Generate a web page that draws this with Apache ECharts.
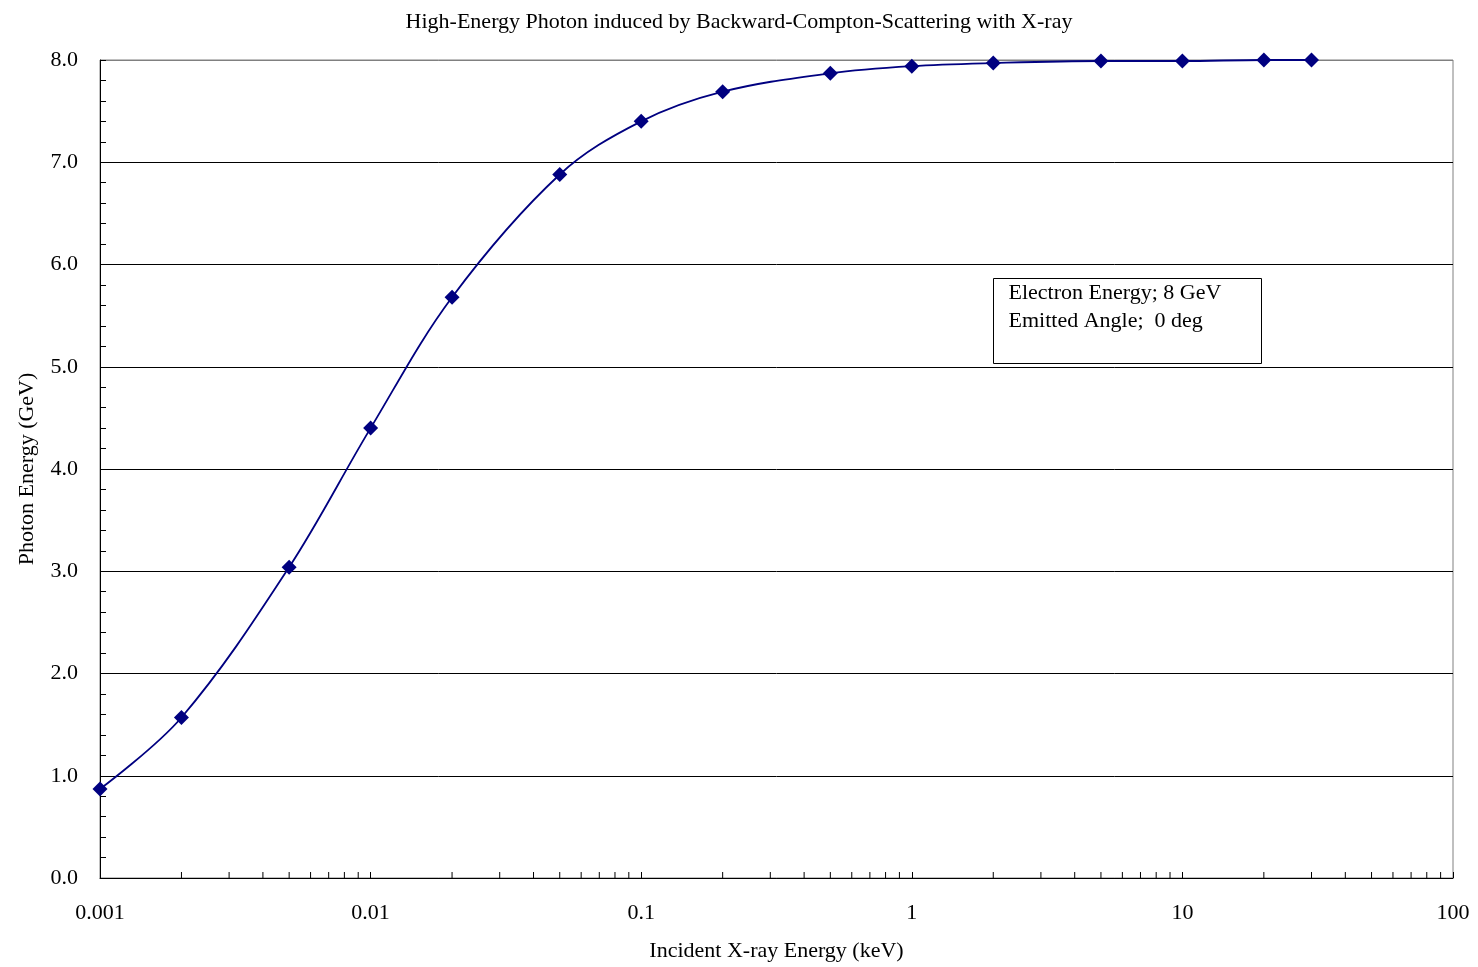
<!DOCTYPE html>
<html>
<head>
<meta charset="utf-8">
<title>High-Energy Photon induced by Backward-Compton-Scattering with X-ray</title>
<script src="https://cdn.jsdelivr.net/npm/echarts@6/dist/echarts.min.js"></script>
<style>
  html, body { margin: 0; padding: 0; background: #fff; }
  #chart { width: 1478px; height: 967px; }
</style>
</head>
<body>
<div id="chart"></div>
<script>
// Incident X-ray energy (keV) and resulting photon energy (GeV)
const xrayEnergy = [0.001, 0.002, 0.005, 0.01, 0.02, 0.05, 0.1, 0.2, 0.5, 1, 2, 5, 10, 20, 30];
const photonEnergy = [0.87, 1.57, 3.04, 4.40, 5.68, 6.88, 7.40, 7.69, 7.87, 7.94, 7.97, 7.99, 7.99, 8.00, 8.00];

// Decade labels of the logarithmic x axis
const xTickLabels = ['0.001', '0.01', '0.1', '1', '10', '100'];
// Minor tick multipliers within each decade
const minorMultipliers = [2, 3, 4, 5, 6, 7, 8, 9];
const decades = [0.001, 0.01, 0.1, 1, 10];

const FONT = "'Liberation Serif', 'Times New Roman', serif";

const minorTickValues = [];
decades.forEach(d => minorMultipliers.forEach(m => minorTickValues.push([d * m])));

const chart = echarts.init(document.getElementById('chart'), null, { renderer: 'canvas' });

const option = {
  backgroundColor: '#ffffff',
  animation: false,
  title: {
    text: 'High-Energy Photon induced by Backward-Compton-Scattering with X-ray',
    left: 'center',
    top: 6,
    textStyle: { fontFamily: FONT, fontSize: 22, fontWeight: 'normal', color: '#000' }
  },
  grid: {
    left: 100, top: 60, width: 1353, height: 819,
    show: true, borderColor: '#808080', borderWidth: 1, backgroundColor: 'transparent'
  },
  xAxis: {
    type: 'log',
    logBase: 10,
    min: 0.001,
    max: 100,
    splitNumber: 5,
    name: 'Incident X-ray Energy (keV)',
    nameLocation: 'middle',
    nameGap: 62,
    nameTextStyle: { fontFamily: FONT, fontSize: 22, color: '#000' },
    axisLine: { show: true, lineStyle: { color: '#000', width: 1 } },
    axisTick: { show: true, inside: true, length: 6, lineStyle: { color: '#000' } },
    axisLabel: {
      fontFamily: FONT, fontSize: 22, color: '#000', margin: 24,
      formatter: v => xTickLabels[Math.round(Math.log10(v)) + 3]
    },
    splitLine: { show: false },
    minorTick: { show: false }
  },
  yAxis: {
    type: 'value',
    min: 0,
    max: 8,
    interval: 1,
    name: 'Photon Energy (GeV)',
    nameLocation: 'middle',
    nameGap: 62,
    nameTextStyle: { fontFamily: FONT, fontSize: 22, color: '#000' },
    axisLine: { show: true, lineStyle: { color: '#000', width: 1 } },
    axisTick: { show: true, inside: true, length: 6, lineStyle: { color: '#000' } },
    minorTick: { show: true, splitNumber: 5, length: 6, lineStyle: { color: '#000' } },
    axisLabel: {
      fontFamily: FONT, fontSize: 22, color: '#000', margin: 22,
      padding: [4, 0, 0, 0],
      formatter: v => v.toFixed(1)
    },
    splitLine: {
      show: true,
      lineStyle: {
        color: ['#000', '#000', '#000', '#000', '#000', '#000', '#000', '#000', '#808080'],
        width: 1
      }
    }
  },
  series: [
    {
      type: 'line',
      data: xrayEnergy.map((x, i) => [x, photonEnergy[i]]),
      smooth: 0.35,
      symbol: 'diamond',
      symbolSize: 15,
      itemStyle: { color: '#000080' },
      lineStyle: { color: '#000080', width: 1.8 },
      z: 5
    },
    {
      // Minor ticks between decades on the logarithmic axis
      type: 'custom',
      silent: true,
      clip: false,
      data: minorTickValues,
      renderItem: (params, api) => {
        const p = api.coord([api.value(0), 0]);
        return {
          type: 'line',
          shape: { x1: p[0], y1: p[1], x2: p[0], y2: p[1] - 6 },
          style: { stroke: '#000', lineWidth: 1 }
        };
      },
      z: 3
    }
  ],
  graphic: [
    {
      type: 'group',
      left: 993,
      top: 278,
      children: [
        {
          type: 'rect',
          shape: { x: 0, y: 0, width: 268, height: 85 },
          style: { fill: '#fff', stroke: '#000', lineWidth: 1 }
        },
        {
          type: 'text',
          x: 15, y: 4,
          style: { text: 'Electron Energy; 8 GeV', font: '22px ' + FONT, fill: '#000' }
        },
        {
          type: 'text',
          x: 15, y: 32,
          style: { text: 'Emitted Angle;  0 deg', font: '22px ' + FONT, fill: '#000' }
        }
      ]
    }
  ]
};

chart.setOption(option);
</script>
</body>
</html>
